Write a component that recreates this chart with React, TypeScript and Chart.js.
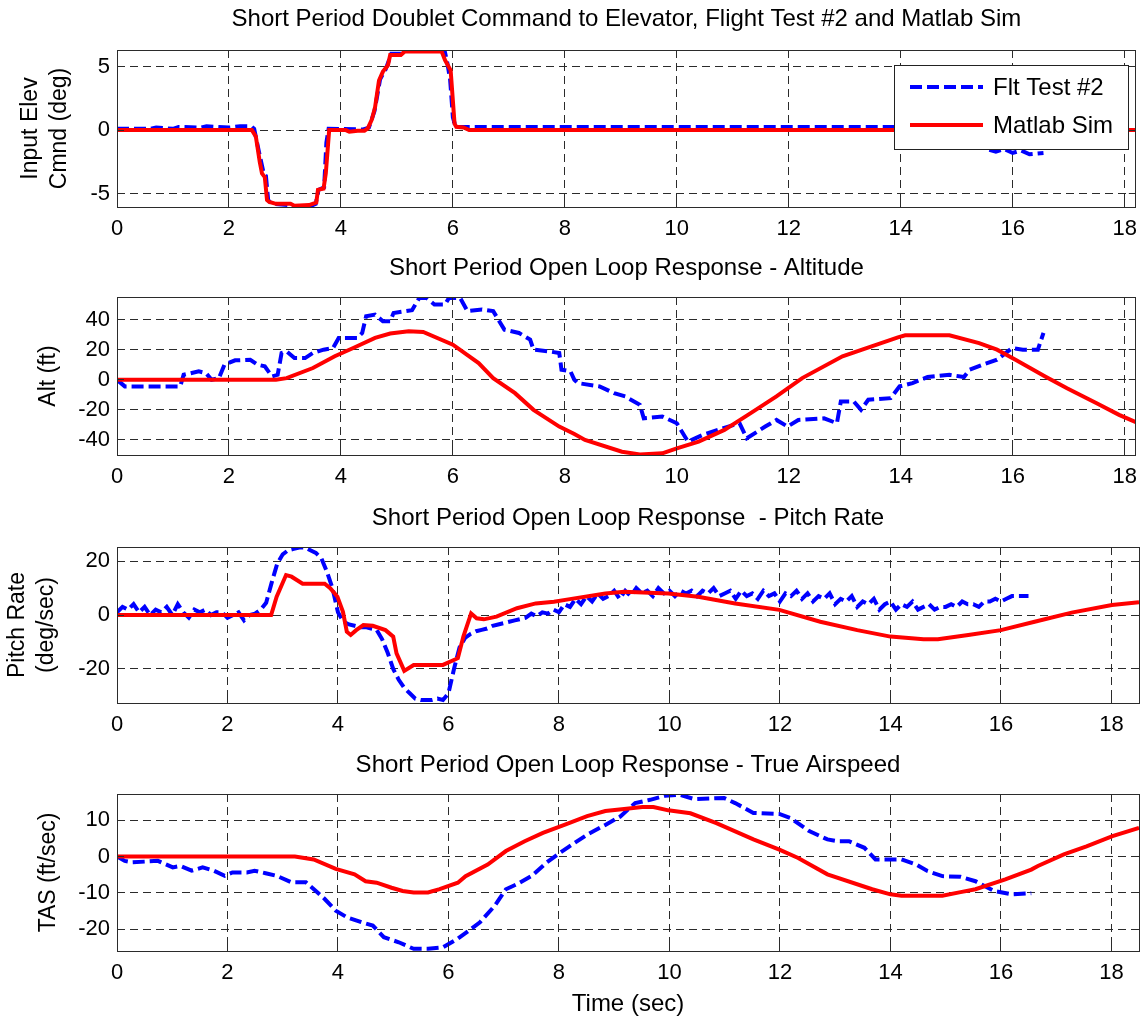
import { useEffect, useRef } from "react";
import { Chart, registerables } from "chart.js";

Chart.register(...registerables);

type Pt = [number, number];

const FONT = "'Liberation Sans', Arial, Helvetica, sans-serif";
const BLUE = "#0000ff";
const RED = "#ff0000";
const GRID = "#2b2b2b";

const seriesLabels = ["Flt Test #2", "Matlab Sim"];
const timeTicks = [0, 2, 4, 6, 8, 10, 12, 14, 16, 18];

const elevTicks = [-5, 0, 5];
const altTicks = [-40, -20, 0, 20, 40];
const qTicks = [-20, 0, 20];
const tasTicks = [-20, -10, 0, 10];

// Panel 1: elevator command (deg)
const elevFlt: Pt[] = [
  [0, 0.1], [0.6, 0.1], [0.7, 0.2], [1.0, 0.1], [1.1, 0.25], [1.5, 0.2], [1.6, 0.3], [2.0, 0.2],
  [2.2, 0.3], [2.4, 0.3], [2.45, 0.1], [2.55, -2.0], [2.62, -3.4], [2.66, -3.6], [2.7, -5.5],
  [2.76, -5.8], [3.1, -5.9], [3.2, -6.1], [3.45, -6.0], [3.55, -5.8], [3.6, -4.7], [3.7, -4.5],
  [3.74, -1.0], [3.78, 0.1], [4.4, 0.05], [4.5, 0.2], [4.6, 1.5], [4.7, 4.0], [4.8, 4.8],
  [4.9, 6.0], [5.1, 6.0], [5.15, 6.3], [5.85, 6.3], [5.9, 5.3], [5.95, 4.0], [6.0, 1.0],
  [6.05, 0.25], [6.2, 0.25], [15.3, 0.25], [15.45, -0.8], [15.55, -1.5], [15.7, -1.7],
  [15.85, -1.5], [16.0, -1.8], [16.15, -1.6], [16.3, -1.9], [16.55, -1.8],
];
const elevSim: Pt[] = [
  [0, 0], [2.41, 0], [2.48, -0.5], [2.55, -2.5], [2.59, -3.4], [2.64, -3.7], [2.68, -5.5],
  [2.72, -5.65], [2.84, -5.8], [3.1, -5.8], [3.17, -5.95], [3.43, -5.9], [3.56, -5.7],
  [3.59, -4.7], [3.69, -4.6], [3.73, -3.4], [3.79, 0], [4.09, 0], [4.15, -0.13], [4.3, -0.05],
  [4.42, -0.05], [4.48, 0.13], [4.55, 0.8], [4.61, 1.8], [4.68, 3.9], [4.75, 4.6], [4.84, 5.1],
  [4.88, 5.9], [5.07, 5.9], [5.14, 6.18], [5.8, 6.18], [5.86, 5.5], [5.96, 4.7], [6.03, 0.5],
  [6.06, 0.26], [6.19, 0.2], [6.29, 0], [18.2, 0],
];

// Panel 2: altitude (ft)
const altFlt: Pt[] = [
  [0, 0], [0.14, -4.4], [1.13, -4.4], [1.19, 3.3], [1.46, 5.6], [1.59, 4.4], [1.69, 0], [1.82, 1.1],
  [1.92, 10], [2.11, 12.9], [2.38, 13.3], [2.51, 10], [2.64, 8.9], [2.77, 2.2], [2.87, 3.3],
  [2.94, 17.8], [3.03, 18.9], [3.17, 14.4], [3.36, 14.4], [3.5, 17.8], [3.69, 20], [3.86, 21.1],
  [3.96, 27.8], [4.29, 27.8], [4.38, 31.1], [4.45, 42.2], [4.61, 43.3], [4.75, 38.9], [4.88, 38.9],
  [4.94, 44.4], [5.27, 46.2], [5.4, 54.4], [5.53, 54.4], [5.67, 50], [5.86, 50], [5.93, 54.4],
  [6.13, 54.4], [6.26, 45.6], [6.52, 46.7], [6.72, 45.6], [6.92, 33.3], [7.18, 31.1], [7.38, 26.7],
  [7.44, 20], [7.71, 18.9], [7.9, 17.8], [7.94, 6.7], [8.1, 5.6], [8.17, 0], [8.23, -2.2],
  [8.62, -4.4], [8.88, -8.9], [9.08, -11.1], [9.34, -16.7], [9.41, -25.6], [9.74, -24.4],
  [10.0, -28.9], [10.2, -41.1], [10.46, -36.7], [10.92, -31.1], [11.12, -28.9], [11.25, -38.9],
  [11.58, -31.1], [11.78, -26.7], [11.98, -31.1], [12.17, -26.7], [12.63, -25.6], [12.86, -28.9],
  [12.93, -14.4], [13.16, -14.4], [13.29, -20], [13.42, -13.3], [13.82, -12.2], [13.98, -4.4],
  [14.21, -2.2], [14.48, 1.8], [14.87, 3.3], [15.13, 1.8], [15.23, 6.7], [15.46, 10], [15.72, 13.3],
  [15.99, 21.1], [16.18, 20], [16.45, 20], [16.55, 31.1],
];
const altSim: Pt[] = [
  [0, 0], [2.84, 0], [3.03, 1.1], [3.5, 7.8], [3.89, 15.6], [4.22, 21.1], [4.61, 27.8], [4.88, 30.7],
  [5.21, 32.2], [5.47, 31.8], [6.0, 23.3], [6.46, 11.1], [6.72, 1.1], [7.11, -8.9], [7.44, -20],
  [7.9, -31.1], [8.17, -36], [8.36, -40], [9.02, -47.8], [9.34, -49.6], [9.74, -48.9], [10.0, -45.6],
  [10.39, -41.1], [10.85, -33.3], [11.32, -22.2], [11.78, -11.1], [12.24, 1.1], [12.96, 15.6],
  [13.48, 22.2], [13.95, 28.2], [14.08, 29.6], [14.87, 29.6], [15.4, 24.4], [15.72, 20],
  [16.05, 13.3], [16.58, 2.2], [16.97, -5.6], [17.5, -15.6], [17.9, -23.3], [18.2, -28.2],
];

// Panel 3: pitch rate (deg/sec)
const qFlt: Pt[] = [
  [0, 1], [0.1, 3], [0.2, 2], [0.3, 4], [0.4, 1], [0.5, 3], [0.6, 0], [0.7, 2], [0.8, 1], [0.9, 3],
  [1.0, 0], [1.1, 4], [1.2, 1], [1.3, -1], [1.4, 2], [1.5, 1], [1.6, 2], [1.7, 0], [1.8, 1], [1.9, 1],
  [2.0, -1], [2.1, 0], [2.2, 1], [2.3, -2], [2.4, 0], [2.5, 0.5], [2.6, 2], [2.7, 4.5], [2.8, 12],
  [2.9, 19], [3.0, 22.5], [3.1, 24], [3.2, 24.5], [3.3, 25], [3.4, 25], [3.5, 24], [3.6, 23],
  [3.7, 21], [3.8, 16], [3.9, 10], [4.0, 1], [4.1, -2.5], [4.2, -3.5], [4.3, -4], [4.4, -4.5],
  [4.5, -4.5], [4.6, -5], [4.7, -5.5], [4.8, -9], [4.9, -14], [5.0, -20], [5.1, -24], [5.2, -27],
  [5.3, -29], [5.4, -31], [5.5, -31.5], [5.6, -31.5], [5.7, -31.5], [5.8, -31], [5.9, -31.5],
  [6.0, -29], [6.1, -20], [6.2, -12], [6.3, -8.5], [6.4, -7], [6.5, -6], [6.6, -5.5], [6.7, -5],
  [6.8, -4], [6.9, -3.5], [7.0, -3], [7.1, -2.5], [7.2, -2], [7.3, -1.5], [7.4, -1], [7.5, 0.5],
  [7.6, -0.5], [7.7, 1], [7.8, 0.5], [7.9, 2], [8.0, 1], [8.1, 4], [8.2, 3], [8.3, 6], [8.4, 4],
  [8.5, 7], [8.6, 5], [8.7, 8], [8.8, 6], [8.9, 7], [9.0, 9], [9.1, 6], [9.2, 9], [9.3, 7], [9.4, 10],
  [9.5, 8], [9.6, 9], [9.7, 7], [9.8, 10], [9.9, 8], [10.0, 9], [10.1, 7], [10.2, 9], [10.3, 8],
  [10.4, 9], [10.5, 7], [10.6, 9], [10.7, 8], [10.8, 10], [10.9, 7], [11.0, 8], [11.1, 9], [11.2, 6],
  [11.3, 9], [11.4, 7], [11.5, 8], [11.6, 6], [11.7, 9], [11.8, 7], [11.9, 8], [12.0, 5], [12.1, 8],
  [12.2, 7], [12.3, 9], [12.4, 6], [12.5, 8], [12.6, 5], [12.7, 7], [12.8, 6], [12.9, 8], [13.0, 4],
  [13.1, 6], [13.2, 5], [13.3, 7], [13.4, 3], [13.5, 5], [13.6, 4], [13.7, 6], [13.8, 2], [13.9, 4],
  [14.0, 5], [14.1, 2], [14.2, 4], [14.3, 3], [14.4, 5], [14.5, 2], [14.6, 3], [14.7, 4], [14.8, 2],
  [14.9, 3], [15.0, 3], [15.1, 4], [15.2, 3], [15.3, 5], [15.4, 4], [15.5, 4], [15.6, 3], [15.7, 5],
  [15.8, 5], [15.9, 6], [16.0, 5], [16.1, 6], [16.2, 7], [16.3, 7], [16.4, 7], [16.5, 7],
];
const qSim: Pt[] = [
  [0, 0], [2.79, 0], [2.89, 6.8], [3.06, 14.8], [3.16, 14.2], [3.36, 11.6], [3.76, 11.6], [3.86, 9.9],
  [3.99, 6.8], [4.09, 1.2], [4.16, -6.2], [4.23, -7.4], [4.33, -5.6], [4.46, -3.7], [4.63, -4.0],
  [4.86, -5.6], [5.0, -8.0], [5.06, -14.2], [5.2, -20.7], [5.37, -18.5], [5.9, -18.5], [6.17, -16.0],
  [6.27, -8.0], [6.41, 0.6], [6.51, -1.2], [6.64, -1.6], [6.87, -0.6], [7.24, 2.5], [7.58, 4.3],
  [7.91, 4.9], [8.17, 5.8], [8.84, 8.0], [9.18, 8.6], [9.98, 8.0], [10.52, 6.8], [11.19, 4.3],
  [11.99, 1.9], [12.73, -2.5], [13.4, -5.6], [14.0, -8.0], [14.6, -9.0], [14.86, -9.0], [15.41, -7.4],
  [16.0, -5.6], [16.61, -2.5], [17.28, 0.9], [18.01, 3.7], [18.5, 4.7],
];

// Panel 4: true airspeed (ft/sec)
const tasFlt: Pt[] = [
  [0, 0], [0.14, -1.2], [0.28, -1.6], [0.74, -1.2], [1.01, -3.0], [1.15, -2.6], [1.35, -3.9],
  [1.55, -3.0], [1.75, -3.9], [1.95, -5.3], [2.09, -4.4], [2.35, -4.4], [2.49, -3.9], [2.69, -4.6],
  [2.89, -5.3], [3.16, -7.1], [3.42, -7.1], [3.63, -9.9], [3.76, -11.7], [3.96, -14.9], [4.16, -16.7],
  [4.43, -18.1], [4.63, -19.0], [4.83, -22.2], [5.1, -23.6], [5.37, -25.4], [5.63, -25.4], [5.9, -25.0],
  [6.17, -22.6], [6.37, -20.4], [6.57, -18.1], [6.84, -13.5], [7.04, -9.0], [7.24, -7.6], [7.51, -5.3],
  [7.78, -1.6], [7.98, 0.6], [8.17, 2.6], [8.51, 6.0], [8.84, 8.7], [9.11, 11.0], [9.38, 14.7],
  [9.65, 15.6], [9.92, 16.7], [10.18, 17.0], [10.45, 15.8], [10.99, 16.1], [11.19, 14.7],
  [11.52, 12.0], [11.99, 11.7], [12.19, 10.6], [12.53, 7.0], [12.86, 4.7], [13.06, 4.2], [13.25, 4.2],
  [13.53, 2.4], [13.73, -0.8], [14.2, -0.8], [14.47, -2.2], [14.67, -4.0], [14.94, -5.4],
  [15.27, -5.6], [15.54, -6.8], [15.88, -9.5], [16.2, -10.4], [16.55, -10.1],
];
const tasSim: Pt[] = [
  [0, 0], [3.22, 0], [3.56, -0.8], [3.96, -3.4], [4.3, -4.9], [4.5, -6.8], [4.7, -7.2], [4.97, -8.6],
  [5.17, -9.5], [5.37, -9.9], [5.63, -9.9], [5.84, -9.0], [6.17, -7.2], [6.31, -5.4], [6.71, -2.2],
  [7.04, 1.5], [7.38, 4.2], [7.71, 6.5], [8.11, 8.8], [8.51, 11.1], [8.84, 12.5], [9.18, 13.1],
  [9.51, 13.6], [9.71, 13.6], [9.98, 12.7], [10.38, 11.9], [10.85, 9.2], [11.52, 4.7], [11.99, 1.9],
  [12.33, -0.4], [12.86, -4.9], [13.67, -9.0], [14.0, -10.4], [14.2, -10.8], [14.94, -10.8],
  [15.27, -9.8], [15.54, -9.0], [16.08, -6.3], [16.55, -3.6], [16.67, -2.6], [17.14, 0.6],
  [17.55, 2.8], [18.02, 5.6], [18.5, 7.9],
];

interface PanelSpec {
  id: string;
  top: number;
  height: number;
  title: string;
  titlePadTop: number;
  titlePadBottom: number;
  yTitle: string | string[];
  yTitlePad: number;
  yMin: number;
  yMax: number;
  yTicks: number[];
  xMax: number;
  xAxisHeight: number;
  xTitle?: string;
  flt: Pt[];
  sim: Pt[];
  legend?: boolean;
}

const panels: PanelSpec[] = [
  {
    id: "elev", top: 0, height: 247,
    title: "Short Period Doublet Command to Elevator, Flight Test #2 and Matlab Sim",
    titlePadTop: 5, titlePadBottom: 17,
    yTitle: ["Input Elev", "Cmnd (deg)"], yTitlePad: 16,
    yMin: -6.05, yMax: 6.3, yTicks: elevTicks, xMax: 18.2, xAxisHeight: 40,
    flt: elevFlt, sim: elevSim, legend: true,
  },
  {
    id: "alt", top: 247, height: 248,
    title: "Short Period Open Loop Response - Altitude",
    titlePadTop: 7, titlePadBottom: 15,
    yTitle: "Alt (ft)", yTitlePad: 34,
    yMin: -50, yMax: 55, yTicks: altTicks, xMax: 18.2, xAxisHeight: 40,
    flt: altFlt, sim: altSim,
  },
  {
    id: "q", top: 497, height: 246,
    title: "Short Period Open Loop Response  - Pitch Rate",
    titlePadTop: 7, titlePadBottom: 15,
    yTitle: ["Pitch Rate", "(deg/sec)"], yTitlePad: 3,
    yMin: -32.6, yMax: 25.2, yTicks: qTicks, xMax: 18.5, xAxisHeight: 40,
    flt: qFlt, sim: qSim,
  },
  {
    id: "tas", top: 744, height: 275,
    title: "Short Period Open Loop Response - True Airspeed",
    titlePadTop: 7, titlePadBottom: 15,
    yTitle: "TAS (ft/sec)", yTitlePad: 34,
    yMin: -26, yMax: 17.2, yTicks: tasTicks, xMax: 18.5, xAxisHeight: 68,
    xTitle: "Time (sec)",
    flt: tasFlt, sim: tasSim,
  },
];

const PLOT_LEFT = 117;
const PLOT_RIGHT = 1139;
const WIDTH = 1146;

const align = (v: number) => Math.round(v - 0.5) + 0.5;

const framePlugin = {
  id: "matlabFrame",
  afterDatasetsDraw(chart: any) {
    const { ctx, chartArea: a, scales } = chart;
    const xs = scales.x;
    const ys = scales.y;
    const L = 7;
    ctx.save();
    ctx.setLineDash([]);
    ctx.strokeStyle = GRID;
    ctx.lineWidth = 1;
    ctx.beginPath();
    for (const t of xs.ticks) {
      const px = align(xs.getPixelForValue(t.value));
      ctx.moveTo(px, a.bottom);
      ctx.lineTo(px, a.bottom - L);
      ctx.moveTo(px, a.top);
      ctx.lineTo(px, a.top + L);
    }
    for (const t of ys.ticks) {
      const py = align(ys.getPixelForValue(t.value));
      ctx.moveTo(a.left, py);
      ctx.lineTo(a.left + L, py);
      ctx.moveTo(a.right, py);
      ctx.lineTo(a.right - L, py);
    }
    ctx.stroke();
    const l = align(a.left), r = align(a.right), t = align(a.top), b = align(a.bottom);
    ctx.strokeRect(l, t, r - l, b - t);
    ctx.restore();
  },
};

const legendPlugin = {
  id: "boxLegend",
  afterDraw(chart: any, _args: any, opts: any) {
    if (!opts || !opts.show) return;
    const { ctx } = chart;
    const ds = chart.data.datasets;
    const bx = 894, by = 65, bw = 234, bh = 84;
    ctx.save();
    ctx.fillStyle = "#ffffff";
    ctx.fillRect(bx, by, bw, bh);
    ctx.strokeStyle = "#222222";
    ctx.lineWidth = 1;
    ctx.setLineDash([]);
    ctx.strokeRect(bx + 0.5, by + 0.5, bw, bh);
    const rows = [87, 125];
    // legend order: flight test first, sim second
    const order = [1, 0];
    order.forEach((di, i) => {
      const d = ds[di];
      const y = rows[i];
      ctx.beginPath();
      ctx.strokeStyle = d.borderColor;
      ctx.lineWidth = d.borderWidth;
      ctx.setLineDash(d.borderDash || []);
      ctx.moveTo(910, y);
      ctx.lineTo(983, y);
      ctx.stroke();
      ctx.setLineDash([]);
      ctx.fillStyle = "#000000";
      ctx.font = `24px ${FONT}`;
      ctx.textBaseline = "middle";
      ctx.textAlign = "left";
      ctx.fillText(d.label, 993, y + 1);
    });
    ctx.restore();
  },
};

function Panel({ spec }: { spec: PanelSpec }) {
  const ref = useRef<HTMLCanvasElement | null>(null);

  useEffect(() => {
    if (!ref.current) return;
    const chart = new Chart(ref.current, {
      type: "line",
      data: {
        datasets: [
          {
            label: seriesLabels[1],
            data: spec.sim.map(([x, y]) => ({ x, y })),
            borderColor: RED,
            backgroundColor: RED,
            borderWidth: 4,
            pointRadius: 0,
            tension: 0,
            fill: false,
            order: 0,
          },
          {
            label: seriesLabels[0],
            data: spec.flt.map(([x, y]) => ({ x, y })),
            borderColor: BLUE,
            backgroundColor: BLUE,
            borderWidth: 4,
            borderDash: [12, 5],
            pointRadius: 0,
            tension: 0,
            fill: false,
            order: 1,
          },
        ],
      },
      options: {
        animation: false,
        responsive: false,
        devicePixelRatio: 1,
        events: [],
        layout: { padding: { left: 0, right: WIDTH - PLOT_RIGHT, top: 0, bottom: 0 } },
        plugins: {
          legend: { display: false },
          tooltip: { enabled: false },
          title: {
            display: true,
            fullSize: false,
            text: spec.title,
            color: "#000000",
            font: { family: FONT, size: 24, weight: "normal", lineHeight: "28px" },
            padding: { top: spec.titlePadTop, bottom: spec.titlePadBottom },
          },
          boxLegend: { show: !!spec.legend },
        } as any,
        scales: {
          x: {
            type: "linear",
            min: 0,
            max: spec.xMax,
            afterBuildTicks: (s: any) => {
              s.ticks = timeTicks.map((v) => ({ value: v }));
            },
            afterFit: (s: any) => {
              s.height = spec.xAxisHeight;
            },
            ticks: {
              includeBounds: false,
              autoSkip: false,
              maxRotation: 0,
              padding: 9,
              color: "#000000",
              font: { family: FONT, size: 22 },
              callback: (v: any) => String(v),
            },
            grid: { color: GRID, lineWidth: 1, drawTicks: false },
            border: { display: false, dash: [8, 5] },
            title: {
              display: !!spec.xTitle,
              text: spec.xTitle || "",
              color: "#000000",
              font: { family: FONT, size: 24, lineHeight: "28px" },
              padding: { top: 0, bottom: 1 },
            },
          },
          y: {
            type: "linear",
            min: spec.yMin,
            max: spec.yMax,
            afterBuildTicks: (s: any) => {
              s.ticks = spec.yTicks.map((v) => ({ value: v }));
            },
            afterFit: (s: any) => {
              s.width = PLOT_LEFT;
            },
            ticks: {
              includeBounds: false,
              autoSkip: false,
              padding: 7,
              color: "#000000",
              font: { family: FONT, size: 22 },
              callback: (v: any) => String(v),
            },
            grid: { color: GRID, lineWidth: 1, drawTicks: false },
            border: { display: false, dash: [8, 5] },
            title: {
              display: true,
              text: spec.yTitle as any,
              color: "#000000",
              font: { family: FONT, size: 23, lineHeight: "29px" },
              padding: { top: spec.yTitlePad, bottom: 0 },
            },
          },
        },
      },
      plugins: [framePlugin, legendPlugin],
    } as any);
    return () => chart.destroy();
  }, [spec]);

  return (
    <canvas
      ref={ref}
      width={WIDTH}
      height={spec.height}
      style={{ position: "absolute", left: 0, top: spec.top, width: WIDTH, height: spec.height }}
    />
  );
}

export default function App() {
  return (
    <div
      style={{
        position: "absolute",
        left: 0,
        top: 0,
        width: WIDTH,
        height: 1023,
        background: "#ffffff",
        overflow: "hidden",
      }}
    >
      {panels.map((p) => (
        <Panel key={p.id} spec={p} />
      ))}
    </div>
  );
}
